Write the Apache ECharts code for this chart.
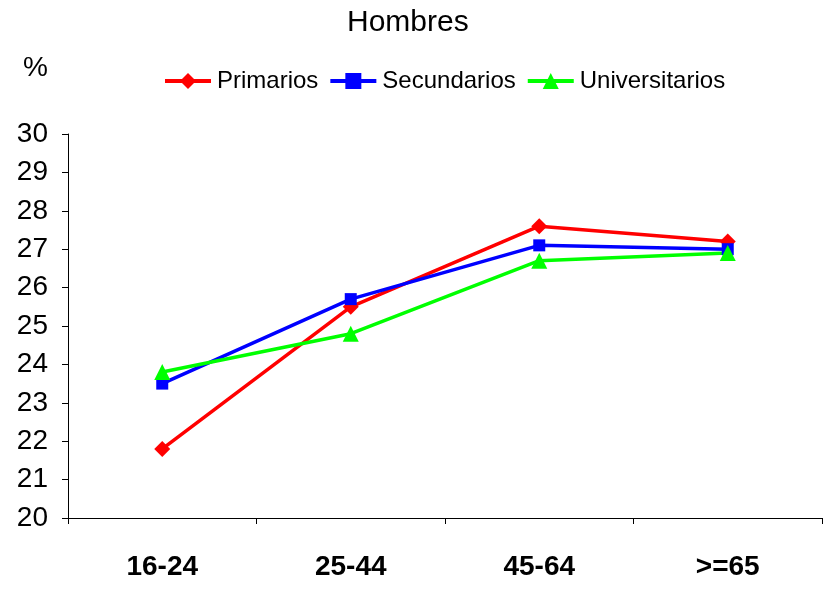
<!DOCTYPE html>
<html><head><meta charset="utf-8">
<script src="https://cdn.jsdelivr.net/npm/echarts@6/dist/echarts.min.js"></script>
<style>html,body{margin:0;padding:0;background:#fff}#c{width:825px;height:590px}</style>
</head><body><div id="c"></div>
<script>
var categories = ['16-24', '25-44', '45-64', '>=65'];
var primarios = [21.8, 25.5, 27.6, 27.2];
var secundarios = [23.5, 25.7, 27.1, 27.0];
var universitarios = [23.8, 24.8, 26.7, 26.9];
var seriesNames = ['Primarios', 'Secundarios', 'Universitarios'];

var chart = echarts.init(document.getElementById('c'));
var font = 'Liberation Sans, Arial, sans-serif';
function mk(name, data, color, symbol, size) {
  return {
    name: name, type: 'line', data: data, symbol: symbol, symbolSize: size,
    lineStyle: {color: color, width: 3.5}, itemStyle: {color: color},
    animation: false
  };
}
chart.setOption({
  animation: false,
  title: {text: 'Hombres', left: 342, top: 3,
    textStyle: {fontFamily: font, fontSize: 30, fontWeight: 'normal', color: '#000'}},
  graphic: [{type: 'text', left: 23, top: 54,
    style: {text: '%', font: '28px ' + font, fill: '#000'}}],
  legend: {top: 64, left: 158, itemWidth: 46, itemHeight: 20, itemGap: 10,
    data: seriesNames,
    lineStyle: {width: 4},
    textStyle: {fontFamily: font, fontSize: 24, color: '#000', padding: [0, 0, 0, 1]}},
  grid: {left: 68, right: 3, top: 134, bottom: 72},
  xAxis: {type: 'category', data: categories, boundaryGap: true,
    axisLine: {lineStyle: {color: '#000', width: 1}},
    axisTick: {show: true, length: 6, lineStyle: {color: '#000'}, alignWithLabel: false},
    axisLabel: {fontFamily: font, fontSize: 28, fontWeight: 'bold', color: '#000', margin: 35}},
  yAxis: {type: 'value', min: 20, max: 30, interval: 1,
    splitLine: {show: false},
    axisLine: {show: true, lineStyle: {color: '#000', width: 1}},
    axisTick: {show: true, length: 6, lineStyle: {color: '#000'}},
    axisLabel: {fontFamily: font, fontSize: 28, color: '#000', margin: 20}},
  series: [
    mk(seriesNames[0], primarios, '#ff0000', 'diamond', 16),
    mk(seriesNames[1], secundarios, '#0000ff', 'rect', 12),
    mk(seriesNames[2], universitarios, '#00ff00', 'triangle', 16)
  ]
});
</script></body></html>
